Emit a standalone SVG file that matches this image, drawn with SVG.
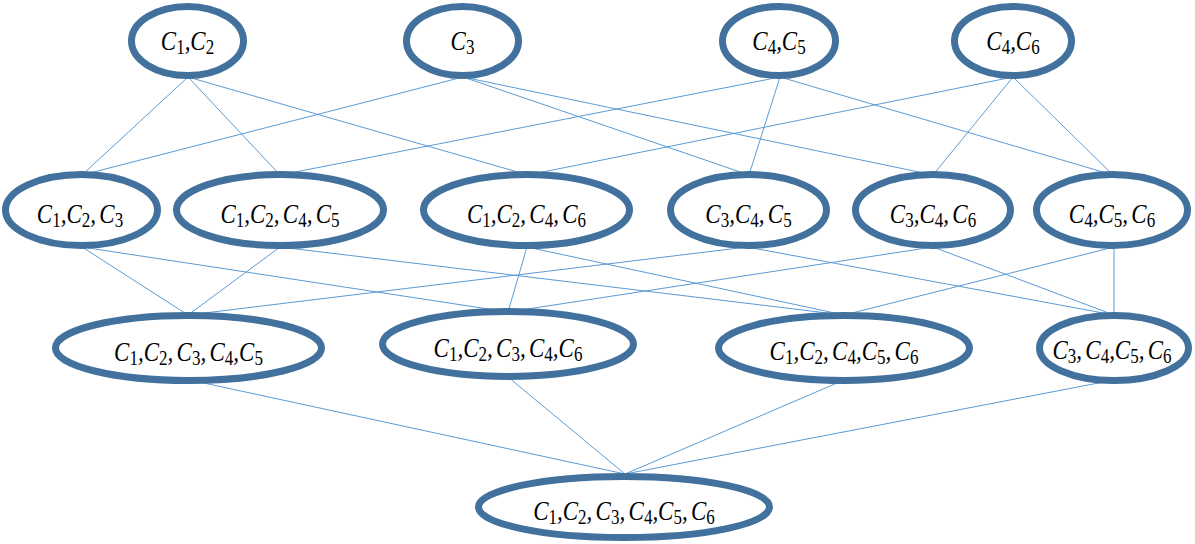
<svg xmlns="http://www.w3.org/2000/svg" width="1195" height="544" viewBox="0 0 1195 544">
<style>
.n{fill:#ffffff;stroke:#41719c;stroke-width:7}
.e{stroke:#5b9bd5;stroke-width:1;fill:none}
.t{font-family:"Liberation Serif","DejaVu Serif",serif;font-style:italic;font-size:27px;fill:#000;text-anchor:middle}
.s{font-style:normal;font-size:20px}
</style>
<rect width="1195" height="544" fill="#ffffff"/>
<g id="connectors">
<line class="e" x1="188" y1="77" x2="82" y2="175"/>
<line class="e" x1="188" y1="77" x2="280" y2="175"/>
<line class="e" x1="188" y1="77" x2="528" y2="175"/>
<line class="e" x1="463" y1="77" x2="82" y2="175"/>
<line class="e" x1="463" y1="77" x2="749" y2="175"/>
<line class="e" x1="463" y1="77" x2="933" y2="175"/>
<line class="e" x1="780" y1="77" x2="280" y2="175"/>
<line class="e" x1="780" y1="77" x2="749" y2="175"/>
<line class="e" x1="780" y1="77" x2="1113" y2="175"/>
<line class="e" x1="1013" y1="77" x2="528" y2="175"/>
<line class="e" x1="1013" y1="77" x2="933" y2="175"/>
<line class="e" x1="1013" y1="77" x2="1113" y2="175"/>
<line class="e" x1="82" y1="247" x2="188" y2="315"/>
<line class="e" x1="82" y1="247" x2="508" y2="312"/>
<line class="e" x1="280" y1="247" x2="188" y2="315"/>
<line class="e" x1="280" y1="247" x2="844" y2="315"/>
<line class="e" x1="527" y1="247" x2="508" y2="312"/>
<line class="e" x1="527" y1="247" x2="844" y2="315"/>
<line class="e" x1="747" y1="247" x2="188" y2="315"/>
<line class="e" x1="747" y1="247" x2="1114" y2="315"/>
<line class="e" x1="933" y1="247" x2="508" y2="312"/>
<line class="e" x1="933" y1="247" x2="1114" y2="315"/>
<line class="e" x1="1114" y1="247" x2="844" y2="315"/>
<line class="e" x1="1114" y1="247" x2="1114" y2="315"/>
<line class="e" x1="190" y1="380" x2="625" y2="474"/>
<line class="e" x1="508" y1="377" x2="625" y2="474"/>
<line class="e" x1="844" y1="380" x2="625" y2="474"/>
<line class="e" x1="1114" y1="380" x2="625" y2="474"/>
</g>
<g id="n-c1c2"><ellipse class="n" cx="187.5" cy="41" rx="56" ry="34.5"/><text class="t" transform="translate(187.5 50) scale(0.85 1)">C<tspan class="s" dy="4">1</tspan><tspan dy="-4">,C</tspan><tspan class="s" dy="4">2</tspan></text></g>
<g id="n-c3"><ellipse class="n" cx="462.5" cy="41" rx="56" ry="34.5"/><text class="t" transform="translate(462.5 50) scale(0.85 1)">C<tspan class="s" dy="4">3</tspan></text></g>
<g id="n-c4c5"><ellipse class="n" cx="779" cy="41" rx="56.5" ry="34.5"/><text class="t" transform="translate(779 50) scale(0.85 1)">C<tspan class="s" dy="4">4</tspan><tspan dy="-4">,C</tspan><tspan class="s" dy="4">5</tspan></text></g>
<g id="n-c4c6"><ellipse class="n" cx="1013" cy="41" rx="58.5" ry="34.5"/><text class="t" transform="translate(1013 50) scale(0.85 1)">C<tspan class="s" dy="4">4</tspan><tspan dy="-4">,C</tspan><tspan class="s" dy="4">6</tspan></text></g>
<g id="n-c1c2c3"><ellipse class="n" cx="81.5" cy="210" rx="76" ry="35.5"/><text class="t" transform="translate(80 223) scale(0.85 1)">C<tspan class="s" dy="4">1</tspan><tspan dy="-4">,C</tspan><tspan class="s" dy="4">2</tspan><tspan dx="0 4" dy="-4">,C</tspan><tspan class="s" dy="4">3</tspan></text></g>
<g id="n-c1c2c4c5"><ellipse class="n" cx="280" cy="210" rx="103.5" ry="35.5"/><text class="t" transform="translate(280 223) scale(0.85 1)">C<tspan class="s" dy="4">1</tspan><tspan dy="-4">,C</tspan><tspan class="s" dy="4">2</tspan><tspan dx="0 4" dy="-4">,C</tspan><tspan class="s" dy="4">4</tspan><tspan dx="0 4" dy="-4">,C</tspan><tspan class="s" dy="4">5</tspan></text></g>
<g id="n-c1c2c4c6"><ellipse class="n" cx="526.5" cy="210" rx="103" ry="35.5"/><text class="t" transform="translate(526.5 223) scale(0.85 1)">C<tspan class="s" dy="4">1</tspan><tspan dy="-4">,C</tspan><tspan class="s" dy="4">2</tspan><tspan dx="0 4" dy="-4">,C</tspan><tspan class="s" dy="4">4</tspan><tspan dx="0 4" dy="-4">,C</tspan><tspan class="s" dy="4">6</tspan></text></g>
<g id="n-c3c4c5"><ellipse class="n" cx="748.5" cy="210" rx="78" ry="35.5"/><text class="t" transform="translate(748.5 223) scale(0.85 1)">C<tspan class="s" dy="4">3</tspan><tspan dy="-4">,C</tspan><tspan class="s" dy="4">4</tspan><tspan dx="0 4" dy="-4">,C</tspan><tspan class="s" dy="4">5</tspan></text></g>
<g id="n-c3c4c6"><ellipse class="n" cx="933" cy="210" rx="77.5" ry="35.5"/><text class="t" transform="translate(933 223) scale(0.85 1)">C<tspan class="s" dy="4">3</tspan><tspan dy="-4">,C</tspan><tspan class="s" dy="4">4</tspan><tspan dx="0 4" dy="-4">,C</tspan><tspan class="s" dy="4">6</tspan></text></g>
<g id="n-c4c5c6"><ellipse class="n" cx="1112" cy="210" rx="75.5" ry="35.5"/><text class="t" transform="translate(1112 223) scale(0.85 1)">C<tspan class="s" dy="4">4</tspan><tspan dy="-4">,C</tspan><tspan class="s" dy="4">5</tspan><tspan dx="0 4" dy="-4">,C</tspan><tspan class="s" dy="4">6</tspan></text></g>
<g id="n-c1c2c3c4c5"><ellipse class="n" cx="188.5" cy="348" rx="133" ry="32.5"/><text class="t" transform="translate(188.5 361) scale(0.85 1)">C<tspan class="s" dy="4">1</tspan><tspan dy="-4">,C</tspan><tspan class="s" dy="4">2</tspan><tspan dx="0 4" dy="-4">,C</tspan><tspan class="s" dy="4">3</tspan><tspan dx="0 4" dy="-4">,C</tspan><tspan class="s" dy="4">4</tspan><tspan dy="-4">,C</tspan><tspan class="s" dy="4">5</tspan></text></g>
<g id="n-c1c2c3c4c6"><ellipse class="n" cx="508" cy="344" rx="125.5" ry="32.5"/><text class="t" transform="translate(508 357) scale(0.85 1)">C<tspan class="s" dy="4">1</tspan><tspan dy="-4">,C</tspan><tspan class="s" dy="4">2</tspan><tspan dx="0 4" dy="-4">,C</tspan><tspan class="s" dy="4">3</tspan><tspan dx="0 4" dy="-4">,C</tspan><tspan class="s" dy="4">4</tspan><tspan dy="-4">,C</tspan><tspan class="s" dy="4">6</tspan></text></g>
<g id="n-c1c2c4c5c6"><ellipse class="n" cx="844" cy="348" rx="125.5" ry="32.5"/><text class="t" transform="translate(844 360) scale(0.85 1)">C<tspan class="s" dy="4">1</tspan><tspan dy="-4">,C</tspan><tspan class="s" dy="4">2</tspan><tspan dx="0 4" dy="-4">,C</tspan><tspan class="s" dy="4">4</tspan><tspan dy="-4">,C</tspan><tspan class="s" dy="4">5</tspan><tspan dx="0 4" dy="-4">,C</tspan><tspan class="s" dy="4">6</tspan></text></g>
<g id="n-c3c4c5c6"><ellipse class="n" cx="1114" cy="348" rx="74.5" ry="32.5"/><text class="t" transform="translate(1112 359) scale(0.85 1)">C<tspan class="s" dy="4">3</tspan><tspan dx="0 4" dy="-4">,C</tspan><tspan class="s" dy="4">4</tspan><tspan dy="-4">,C</tspan><tspan class="s" dy="4">5</tspan><tspan dx="0 4" dy="-4">,C</tspan><tspan class="s" dy="4">6</tspan></text></g>
<g id="n-all"><ellipse class="n" cx="624" cy="507" rx="145.5" ry="30.5"/><text class="t" transform="translate(624 520) scale(0.85 1)">C<tspan class="s" dy="4">1</tspan><tspan dy="-4">,C</tspan><tspan class="s" dy="4">2</tspan><tspan dx="0 4" dy="-4">,C</tspan><tspan class="s" dy="4">3</tspan><tspan dx="0 4" dy="-4">,C</tspan><tspan class="s" dy="4">4</tspan><tspan dy="-4">,C</tspan><tspan class="s" dy="4">5</tspan><tspan dx="0 4" dy="-4">,C</tspan><tspan class="s" dy="4">6</tspan></text></g>
</svg>
